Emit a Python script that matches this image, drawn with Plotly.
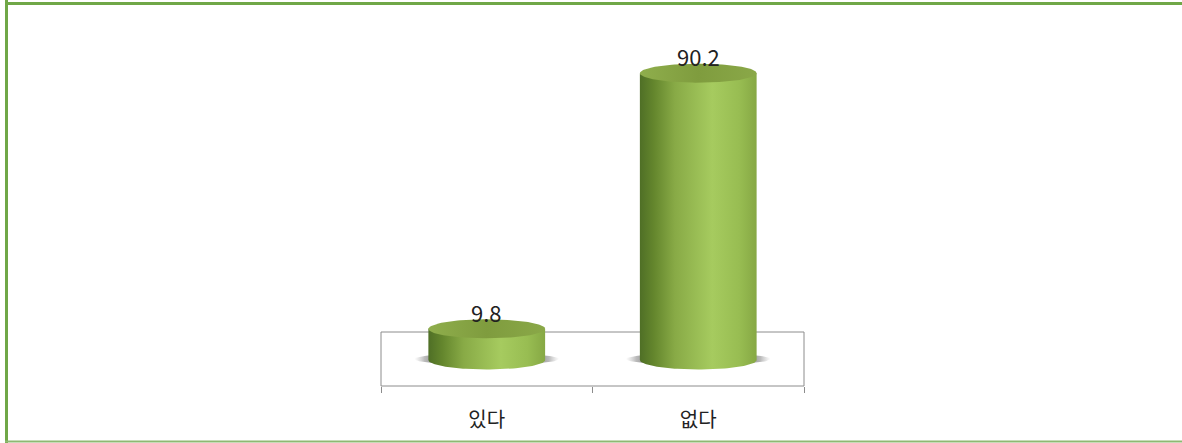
import numpy as np
import plotly.graph_objects as go

categories = ["있다", "없다"]
values = [9.8, 90.2]
value_labels = ["9.8", "90.2"]

W, H = 1182, 443
BOX_L, BOX_R, BOX_TOP, BOX_BOTTOM = 381, 804, 332, 386
ZERO_PX, PX_PER_UNIT = 360, 3.18
HALF_W = 0.276      # cylinder half-width, in category units
ELL_H = 9.5 / PX_PER_UNIT   # ellipse half-height, in value units
FRAME = "#70a747"
LINE = "#8c8c8c"

def px2val(p):
    return (ZERO_PX - p) / PX_PER_UNIT

BODY = [[0, "#4f6f26"], [0.12, "#64862d"], [0.3, "#88aa46"], [0.62, "#a6cb5f"], [0.85, "#98bd52"], [1, "#86a844"]]
TOP = [[0, "#8fae4c"], [0.5, "#7f9c3e"], [1, "#8aa848"]]
SHADOW = [[0, "rgba(190,190,190,0)"], [0.07, "rgba(170,170,170,0.8)"], [0.14, "rgba(140,140,140,1)"],
          [0.86, "rgba(140,140,140,1)"], [0.93, "rgba(170,170,170,0.8)"], [1, "rgba(190,190,190,0)"]]

t = np.linspace(0, 2 * np.pi, 121)
front = np.linspace(np.pi, 2 * np.pi, 61)

fig = go.Figure()
# invisible carrier of the category axis
fig.add_trace(go.Bar(x=categories, y=values, marker_opacity=0, hoverinfo="skip", showlegend=False))

for i, v in enumerate(values):
    # floor shadow
    fig.add_trace(go.Scatter(
        x=i + (HALF_W * 1.24) * np.cos(t), y=px2val(359) + (6 / PX_PER_UNIT) * np.sin(t),
        xaxis="x2", yaxis="y", mode="lines", line_width=0, fill="toself",
        fillgradient=dict(type="horizontal", colorscale=SHADOW), hoverinfo="skip", showlegend=False))
    # cylinder wall
    xs = np.r_[i + HALF_W * np.cos(front), i + HALF_W, i - HALF_W]
    ys = np.r_[ELL_H * np.sin(front), v, v]
    fig.add_trace(go.Scatter(
        x=xs, y=ys, xaxis="x2", yaxis="y", mode="lines", line_width=0, fill="toself",
        fillgradient=dict(type="horizontal", colorscale=BODY), hoverinfo="skip", showlegend=False))
    # cylinder cap
    fig.add_trace(go.Scatter(
        x=i + HALF_W * np.cos(t), y=v + ELL_H * np.sin(t), xaxis="x2", yaxis="y",
        mode="lines", line_width=0, fill="toself",
        fillgradient=dict(type="horizontal", colorscale=TOP), hoverinfo="skip", showlegend=False))

annotations = [
    dict(x=i, y=v, xref="x2", yref="y", text=label, showarrow=False, yshift=17,
         font=dict(family="Noto Sans CJK KR, Noto Sans", size=22, color="#222222"))
    for i, (v, label) in enumerate(zip(values, value_labels))
]

dom = [BOX_L / W, BOX_R / W]
shapes = [
    dict(type="rect", xref="paper", yref="paper", x0=BOX_L / W, x1=BOX_R / W,
         y0=1 - BOX_BOTTOM / H, y1=1 - BOX_TOP / H, line=dict(color=LINE, width=1), layer="below"),
    dict(type="line", xref="paper", yref="paper", x0=6.5 / W, x1=6.5 / W, y0=0, y1=1,
         line=dict(color=FRAME, width=3)),
    dict(type="line", xref="paper", yref="paper", x0=5 / W, x1=1, y0=1 - 3.5 / H, y1=1 - 3.5 / H,
         line=dict(color=FRAME, width=3)),
    dict(type="line", xref="paper", yref="paper", x0=5 / W, x1=1, y0=1 - 441.5 / H, y1=1 - 441.5 / H,
         line=dict(color="#8fb872", width=2)),
]

fig.update_layout(
    width=W, height=H, margin=dict(l=0, r=0, t=0, b=0, pad=0),
    paper_bgcolor="white", plot_bgcolor="white", showlegend=False, shapes=shapes, annotations=annotations,
    font=dict(family="Noto Sans CJK KR", color="#222222"),
    xaxis=dict(domain=dom, type="category", categoryorder="array", categoryarray=categories,
               range=[-0.5, 1.5], tickson="boundaries", ticks="outside", ticklen=6, tickcolor=LINE,
               showgrid=False, zeroline=False, showline=False, anchor="free",
               position=1 - BOX_BOTTOM / H, tickfont=dict(size=20, color="#222222"), ticklabelstandoff=20),
    xaxis2=dict(domain=dom, range=[-0.5, 1.5], overlaying="x", visible=False),
    yaxis=dict(domain=[0, 1], range=[px2val(H), px2val(0)], visible=False),
)

fig.write_html("out.html", config={"displayModeBar": False},
               post_script="document.body.style.margin='0';document.body.style.overflow='hidden';")
